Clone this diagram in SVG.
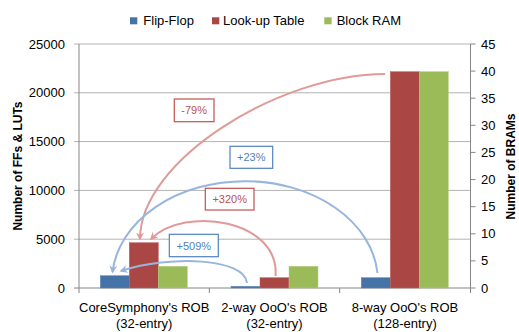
<svg xmlns="http://www.w3.org/2000/svg" width="519" height="332" viewBox="0 0 519 332">
<style>
text{font-family:"Liberation Sans",Arial,sans-serif;font-size:13px;fill:#000}
.grid{stroke:#B3B3B3;stroke-width:1}
.axis{stroke:#868686;stroke-width:1;fill:none}
.ff{fill:#4572A7;stroke:#5E86B8;stroke-width:0.5}
.lut{fill:#AA4643;stroke:#C06563;stroke-width:0.5}
.bram{fill:#9BBB59;stroke:#B3CE7E;stroke-width:0.5}
.title{font-weight:bold;font-size:12px}
.ra{fill:none;stroke:#E09A98;stroke-width:2;marker-end:url(#ah-r)}
.ba{fill:none;stroke:#98B6DC;stroke-width:2;marker-end:url(#ah-b)}
.rbox{fill:#fff;stroke:#C0504D;stroke-width:1.2}
.bbox{fill:#fff;stroke:#4F81BD;stroke-width:1.2}
.rt{fill:#C0504D;font-size:11px;text-anchor:middle}
.bt{fill:#4F81BD;font-size:11px;text-anchor:middle}
.lbl{text-anchor:middle}
.yl{text-anchor:end}
</style>
<defs>
<marker id="ah-r" viewBox="0 0 10 10" refX="8" refY="5" markerWidth="4" markerHeight="4" orient="auto" markerUnits="strokeWidth"><path d="M0,0 L10,5 L0,10 L3,5 z" fill="#E09A98"/></marker>
<marker id="ah-b" viewBox="0 0 10 10" refX="8" refY="5" markerWidth="4" markerHeight="4" orient="auto" markerUnits="strokeWidth"><path d="M0,0 L10,5 L0,10 L3,5 z" fill="#98B6DC"/></marker>
</defs>
<rect width="519" height="332" fill="#fff"/>
<g id="gridlines">
<line class="grid" x1="74" y1="44" x2="470.5" y2="44"/>
<line class="grid" x1="74" y1="92.8" x2="470.5" y2="92.8"/>
<line class="grid" x1="74" y1="141.6" x2="470.5" y2="141.6"/>
<line class="grid" x1="74" y1="190.4" x2="470.5" y2="190.4"/>
<line class="grid" x1="74" y1="239.2" x2="470.5" y2="239.2"/>
</g>
<g id="axes">
<line class="axis" x1="79" y1="44" x2="79" y2="293"/>
<line class="axis" x1="74" y1="288" x2="475.5" y2="288"/>
<line class="axis" x1="470.5" y1="44" x2="470.5" y2="293"/>
<line class="axis" x1="209.3" y1="288" x2="209.3" y2="293"/>
<line class="axis" x1="339.7" y1="288" x2="339.7" y2="293"/>
<line class="axis" x1="470.5" y1="44" x2="475.5" y2="44"/>
<line class="axis" x1="470.5" y1="71.1" x2="475.5" y2="71.1"/>
<line class="axis" x1="470.5" y1="98.2" x2="475.5" y2="98.2"/>
<line class="axis" x1="470.5" y1="125.3" x2="475.5" y2="125.3"/>
<line class="axis" x1="470.5" y1="152.4" x2="475.5" y2="152.4"/>
<line class="axis" x1="470.5" y1="179.6" x2="475.5" y2="179.6"/>
<line class="axis" x1="470.5" y1="206.7" x2="475.5" y2="206.7"/>
<line class="axis" x1="470.5" y1="233.8" x2="475.5" y2="233.8"/>
<line class="axis" x1="470.5" y1="260.9" x2="475.5" y2="260.9"/>
</g>
<g id="left-ticks">
<text class="yl" x="65" y="48.5">25000</text>
<text class="yl" x="65" y="97.3">20000</text>
<text class="yl" x="65" y="146.1">15000</text>
<text class="yl" x="65" y="194.9">10000</text>
<text class="yl" x="65" y="243.7">5000</text>
<text class="yl" x="65" y="292.5">0</text>
</g>
<g id="right-ticks">
<text x="481" y="48.5">45</text>
<text x="481" y="75.6">40</text>
<text x="481" y="102.7">35</text>
<text x="481" y="129.8">30</text>
<text x="481" y="156.9">25</text>
<text x="481" y="184.1">20</text>
<text x="481" y="211.2">15</text>
<text x="481" y="238.3">10</text>
<text x="481" y="265.4">5</text>
<text x="481" y="292.5">0</text>
</g>
<g id="axis-titles">
<text class="title" text-anchor="middle" transform="translate(22,166) rotate(-90)">Number of FFs &amp; LUTs</text>
<text class="title" text-anchor="middle" transform="translate(515,166.5) rotate(-90)">Number of BRAMs</text>
</g>
<g id="legend">
<rect x="130" y="17.3" width="7.3" height="7" fill="#4572A7"/>
<text x="143.3" y="25">Flip-Flop</text>
<rect x="212" y="17.3" width="7.3" height="7" fill="#AA4643"/>
<text x="223" y="25">Look-up Table</text>
<rect x="324.3" y="17.3" width="7.3" height="7" fill="#9BBB59"/>
<text x="336.7" y="25">Block RAM</text>
</g>
<g id="bars-coresymphony">
<rect class="ff" x="100.3" y="275.7" width="29" height="12.3"/>
<rect class="lut" x="129.3" y="242.7" width="29" height="45.3"/>
<rect class="bram" x="158.3" y="266.3" width="29" height="21.7"/>
</g>
<g id="bars-2way">
<rect class="ff" x="231" y="286.3" width="29" height="1.7"/>
<rect class="lut" x="260" y="277.7" width="29" height="10.3"/>
<rect class="bram" x="289" y="266.3" width="29" height="21.7"/>
</g>
<g id="bars-8way">
<rect class="ff" x="361.3" y="277.7" width="29" height="10.3"/>
<rect class="lut" x="390.3" y="71.7" width="29" height="216.3"/>
<rect class="bram" x="419.3" y="71.7" width="29" height="216.3"/>
</g>
<g id="category-labels">
<text class="lbl" x="144.2" y="311.5">CoreSymphony's ROB</text>
<text class="lbl" x="144.2" y="327.5">(32-entry)</text>
<text class="lbl" x="274.5" y="311.5">2-way OoO's ROB</text>
<text class="lbl" x="274.5" y="327.5">(32-entry)</text>
<text class="lbl" x="405" y="311.5">8-way OoO's ROB</text>
<text class="lbl" x="405" y="327.5">(128-entry)</text>
</g>
<g id="connectors">
<path class="ra" d="M385,74 C280,74 140,160 140,239"/>
<path class="ba" d="M377.5,273 A133,100 0 0 0 112.5,272"/>
<path class="ra" d="M275.5,276 C280,220 185,205 151,239"/>
<path class="ba" d="M247,283 C245,258 170,255 121,271"/>
</g>
<g id="label-79">
<rect class="rbox" x="174.3" y="99" width="39.7" height="22.7"/>
<text class="rt" x="194.2" y="114.3">-79%</text>
</g>
<g id="label-23">
<rect class="bbox" x="230" y="146.3" width="42.7" height="22"/>
<text class="bt" x="251.3" y="161.3">+23%</text>
</g>
<g id="label-320">
<rect class="rbox" x="205.3" y="188.3" width="48.7" height="21.7"/>
<text class="rt" x="229.7" y="203.2">+320%</text>
</g>
<g id="label-509">
<rect class="bbox" x="169.3" y="234.3" width="49" height="22.4"/>
<text class="bt" x="193.8" y="249.5">+509%</text>
</g>
</svg>
